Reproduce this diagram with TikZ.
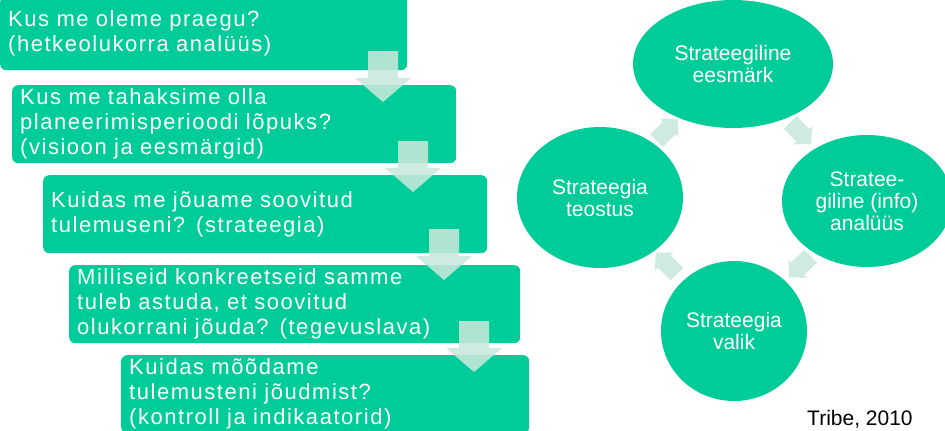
\documentclass[tikz,border=0pt]{standalone}
\usepackage{fontspec}
\setmainfont{Liberation Sans}
\newfontfamily\boxfont{Liberation Sans}[LetterSpace=7,WordSpace=0.75]
\usetikzlibrary{shapes.geometric,calc}
\definecolor{mint}{RGB}{0,204,153}
\definecolor{palemint}{RGB}{200,232,218}
\tikzset{
  stepbox/.style={draw=none, fill=mint, rounded corners=6pt, anchor=north west,
    minimum height=78pt, inner xsep=8pt, inner ysep=0pt, align=left, text=white,
    font=\boxfont\fontsize{22pt}{25pt}\selectfont},
  cyc/.style={ellipse, draw=none, fill=mint, inner sep=0pt, align=center, text=white,
    font=\fontsize{21pt}{22pt}\selectfont},
  paleshape/.style={fill=palemint, fill opacity=0.87, draw=none},
  downarrow/.pic={\fill[paleshape] (-15,0) -- (15,0) -- (15,27) -- (28,27) -- (0,51) -- (-28,27) -- (-15,27) -- cycle;},
  cycarrow/.pic={\fill[paleshape] (-14,-9) -- (4,-9) -- (4,-13) -- (16,0) -- (4,13) -- (4,9) -- (-14,9) -- cycle;}
}
\begin{document}
\begin{tikzpicture}[x=1pt,y=-1pt]
\useasboundingbox (0,0) rectangle (945,431);
% left boxes
\node[stepbox, text width=391pt, minimum height=74pt] (b1) at (0,-4) {Kus me oleme praegu?\\(hetkeolukorra analüüs)};
\node[stepbox, text width=428pt] (b2) at (12,85) {Kus me tahaksime olla\\planeerimisperioodi lõpuks?\\(visioon ja eesmärgid)};
\node[stepbox, text width=428pt] (b3) at (43,175) {Kuidas me jõuame soovitud\\tulemuseni? (strateegia)};
\node[stepbox, text width=435pt] (b4) at (69,265) {Milliseid konkreetseid samme\\tuleb astuda, et soovitud\\olukorrani jõuda? (tegevuslava)};
\node[stepbox, text width=392pt] (b5) at (121,355) {Kuidas mõõdame\\tulemusteni jõudmist?\\(kontroll ja indikaatorid)};
% down arrows
\pic at (383,51) {downarrow};
\pic at (413,141) {downarrow};
\pic at (444,229) {downarrow};
\pic at (474,321) {downarrow};
% cycle
\node[cyc, minimum width=200pt, minimum height=128pt] (c1) at (733,64) {Strateegiline\\eesmärk};
\node[cyc, minimum width=170pt, minimum height=132pt] (c2) at (867,201) {Stratee-\\giline (info)\\analüüs};
\node[cyc, minimum width=146pt, minimum height=140pt] (c3) at (734,331) {Strateegia\\valik};
\node[cyc, minimum width=166pt, minimum height=141pt] (c4) at (600,197.5) {Strateegia\\teostus};
\pic[rotate=-46] at ($(c1)!0.5!(c2)$) {cycarrow};
\pic[rotate=-136] at ($(c2)!0.5!(c3)$) {cycarrow};
\pic[rotate=135] at ($(c3)!0.5!(c4)$) {cycarrow};
\pic[rotate=45] at ($(c4)!0.5!(c1)$) {cycarrow};
% source
\node[anchor=base west, inner sep=0pt, font=\fontsize{21pt}{25pt}\selectfont] (src) at (807,425) {Tribe, 2010};
\end{tikzpicture}
\end{document}
